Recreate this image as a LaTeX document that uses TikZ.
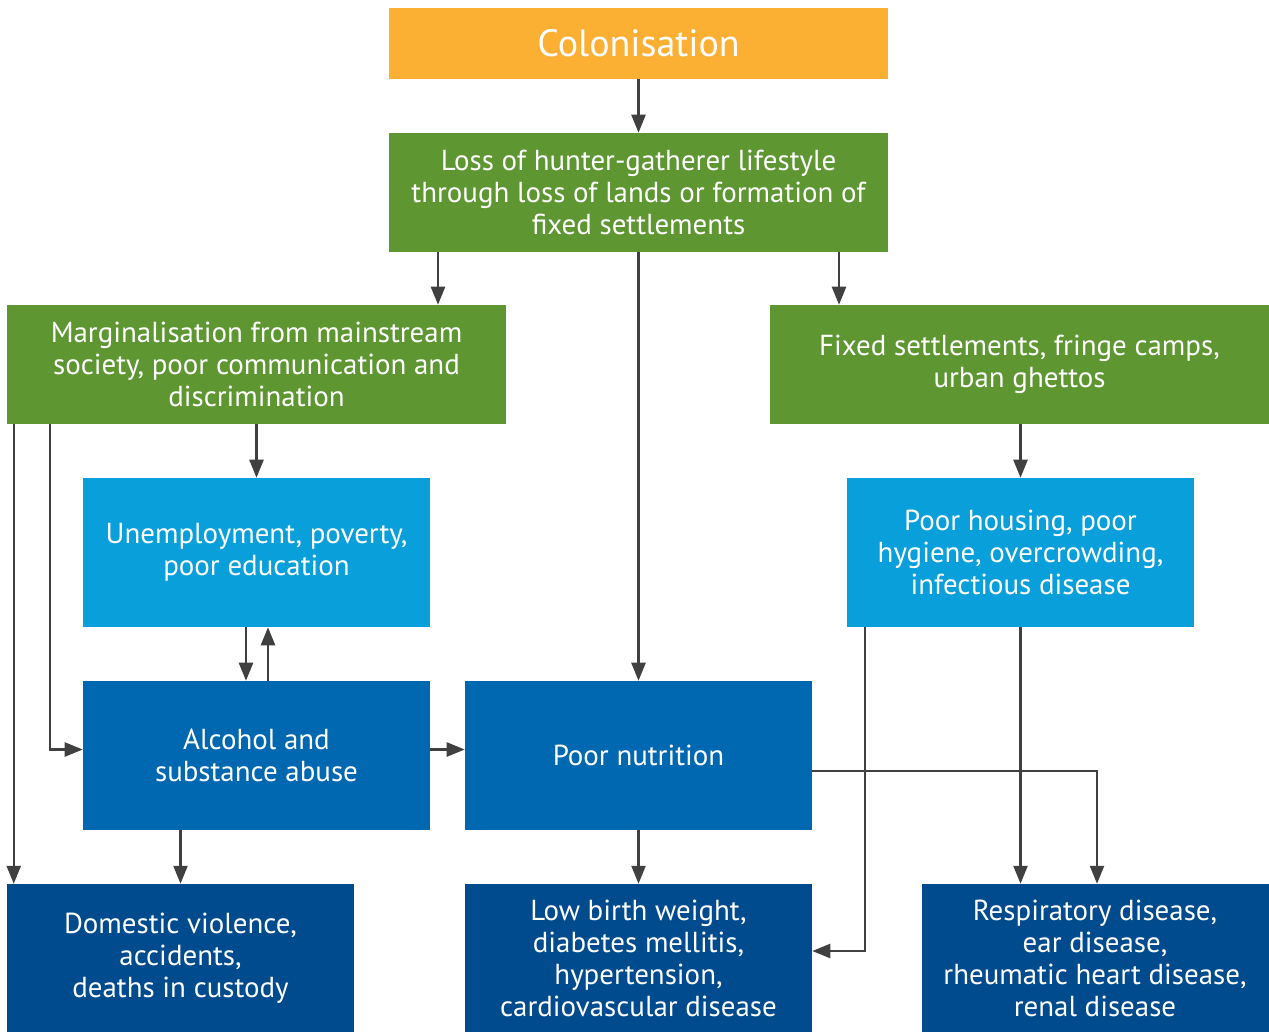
\documentclass[tikz,border=0pt]{standalone}
\usepackage{fontspec}
\setmainfont{PT Sans}
\usetikzlibrary{arrows.meta,calc}
\definecolor{colorange}{HTML}{FBB034}
\definecolor{colgreen}{HTML}{5E9732}
\definecolor{collight}{HTML}{089FDB}
\definecolor{colmid}{HTML}{0067B1}
\definecolor{coldark}{HTML}{004B8D}
\definecolor{linegray}{HTML}{404040}
\begin{document}
\begin{tikzpicture}[x=0.75pt,y=-0.75pt,
  box/.style={rectangle,text=white,align=center,inner sep=0pt,font=\fontsize{21.7}{24}\selectfont},
  widebox/.style={box,minimum width=374.25pt,minimum height=89.25pt},
  midbox/.style={box,minimum width=260.25pt,minimum height=111.75pt},
  arr/.style={draw=linegray,line width=1.8pt,-{Triangle[length=13.5pt,width=10.5pt]}}]
\useasboundingbox (0,0) rectangle (1269,1032);

% Colonisation and loss of lifestyle
\node[widebox,fill=colorange,minimum height=53.25pt,font=\fontsize{28.5}{30}\selectfont] (col) at (638.5,43.5) {Colonisation};
\node[widebox,fill=colgreen] (loss) at (638.5,192.5) {Loss of hunter-gatherer lifestyle\\through loss of lands or formation of\\fixed settlements};

% second row
\node[widebox,fill=colgreen] (marg) at (256.5,364.5) {Marginalisation from mainstream\\society, poor communication and\\discrimination};
\node[widebox,fill=colgreen] (fixed) at (1019.5,364.5) {Fixed settlements, fringe camps,\\urban ghettos};

% third row
\node[midbox,fill=collight] (unemp) at (256.5,552.5) {Unemployment, poverty,\\poor education};
\node[midbox,fill=collight] (housing) at (1020.5,552.5) {Poor housing, poor\\hygiene, overcrowding,\\infectious disease};

% fourth row
\node[midbox,fill=colmid] (alcohol) at (256.5,755.5) {Alcohol and\\substance abuse};
\node[midbox,fill=colmid] (nutrition) at (638.5,755.5) {Poor nutrition};

% outcomes
\node[midbox,fill=coldark,minimum height=111pt] (domestic) at (180.5,958) {Domestic violence,\\accidents,\\deaths in custody};
\node[midbox,fill=coldark,minimum height=111pt] (lowbirth) at (638.5,958) {Low birth weight,\\diabetes mellitis,\\hypertension,\\cardiovascular disease};
\node[midbox,fill=coldark,minimum height=111pt] (resp) at (1095,958) {Respiratory disease,\\ear disease,\\rheumatic heart disease,\\renal disease};

% arrows from the top
\draw[arr] (col.south) -- (loss.north);
\draw[arr] ($(loss.south)+(-200.5,0)$) coordinate (l1) -- (l1 |- marg.north);
\draw[arr] ($(loss.south)+(200.5,0)$) coordinate (l2) -- (l2 |- fixed.north);
\draw[arr] (loss.south) -- (nutrition.north);

% arrows on the left
\draw[arr] (marg.south) -- (marg.south |- unemp.north);
\draw[arr] ($(marg.south west)+(7,0)$) coordinate (m1) -- (m1 |- domestic.north);
\draw[arr] ($(marg.south west)+(43,0)$) |- ($(alcohol.west)+(0,-6)$);
\draw[arr] ($(unemp.south)+(-10.5,0)$) coordinate (u1) -- (u1 |- alcohol.north);
\draw[arr] ($(alcohol.north)+(11.5,0)$) coordinate (a1) -- (a1 |- unemp.south);
\draw[arr] ($(alcohol.east)+(0,-6)$) -- ($(nutrition.west)+(0,-6)$);
\draw[arr] (domestic.north |- alcohol.south) -- (domestic.north);

% arrows on the right
\draw[arr] (housing.north |- fixed.south) -- (housing.north);
\draw[arr] ($(housing.south west)+(18,0)$) |- ($(lowbirth.east)+(0,-7)$);
\draw[arr] (housing.south) -- (housing.south |- resp.north);
\draw[arr] ($(nutrition.east)+(0,15.5)$) -| ($(resp.north)+(2,0)$);
\draw[arr] (nutrition.south) -- (lowbirth.north);
\end{tikzpicture}
\end{document}
